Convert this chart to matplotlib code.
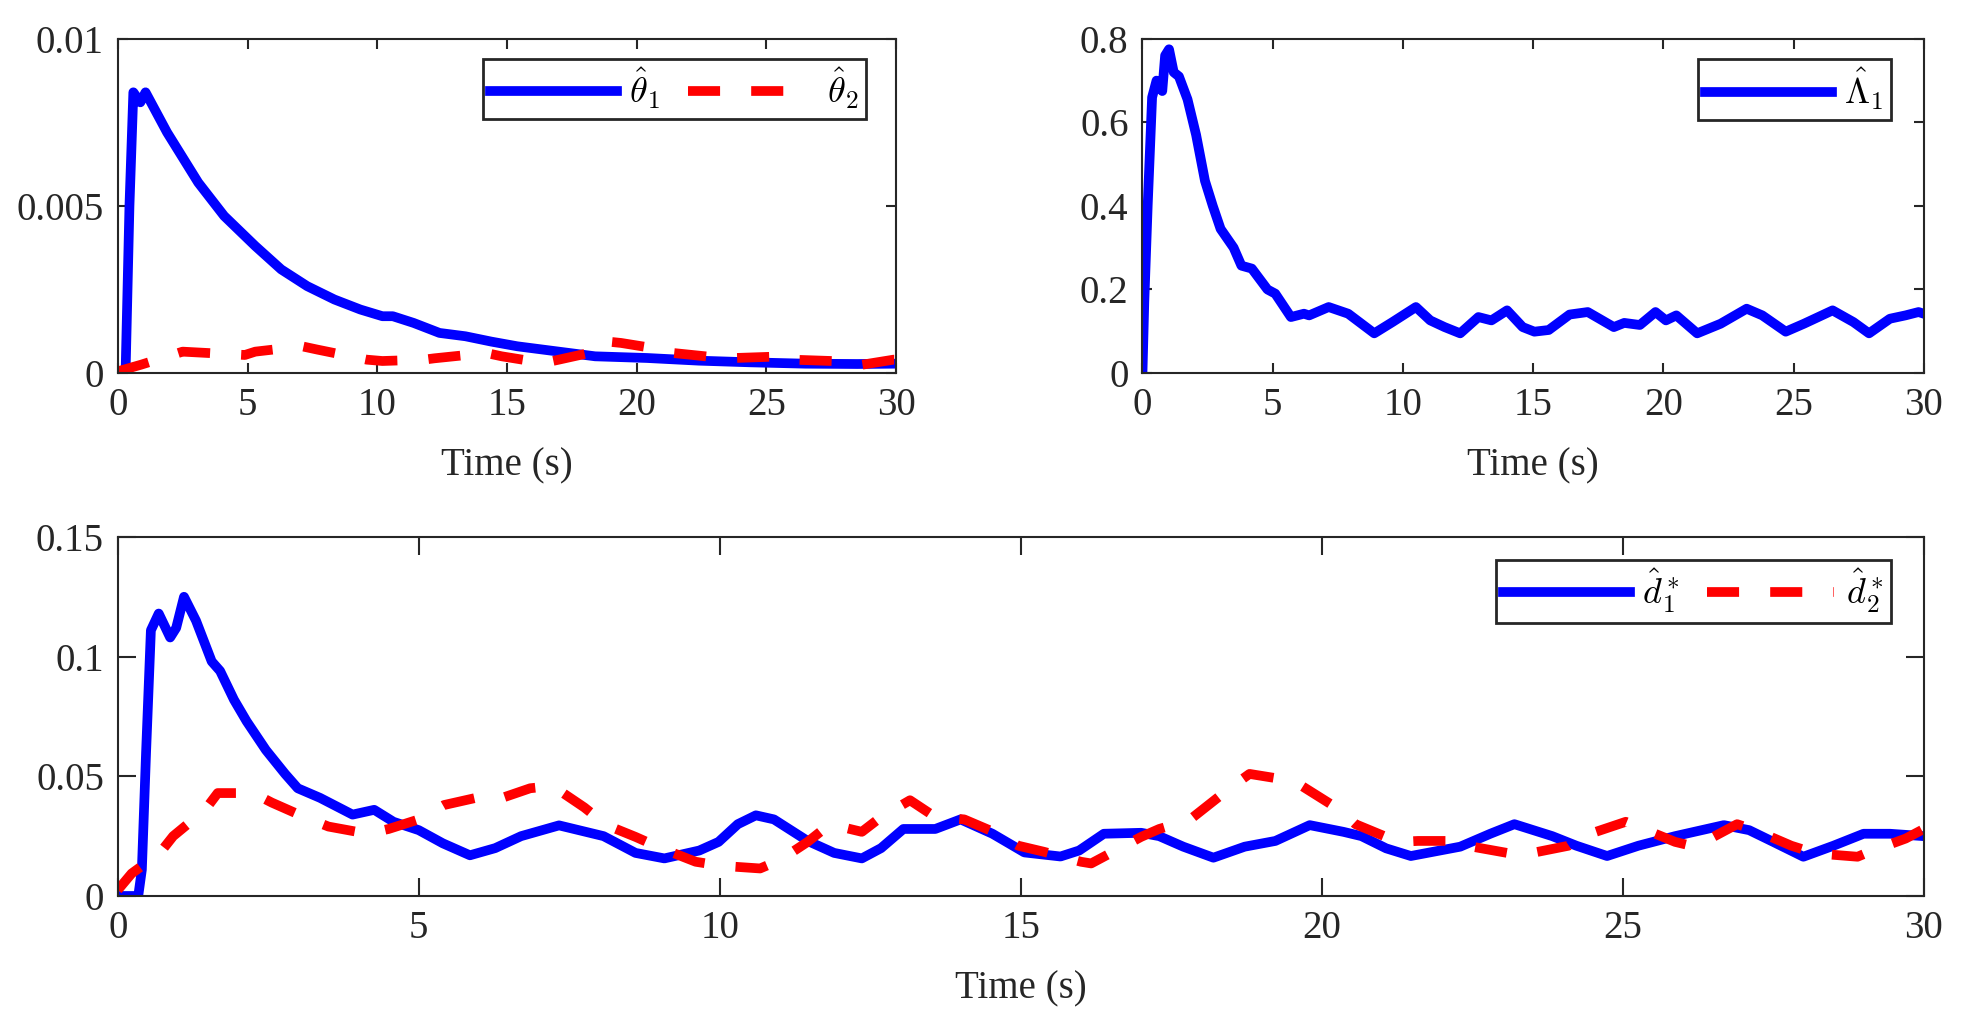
import numpy as np
import matplotlib.pyplot as plt

plt.rcParams['font.family'] = ['Liberation Serif', 'DejaVu Serif']
plt.rcParams['mathtext.fontset'] = 'cm'

# ---- data ----
t_th1 = [0, 0.3, 0.45, 0.6, 0.87, 1.07, 1.9, 2.3, 3.1, 4.1, 5.3, 6.3, 7.3, 8.35, 9.35,
         10.2, 10.6, 11.4, 12.4, 13.4, 14.4, 15.4, 16.4, 17.4, 18.4, 20.4, 22.4, 24.4,
         26.5, 28.5, 30]
th1 = [0, 0, 0.005, 0.0084, 0.0081, 0.0084, 0.0072, 0.0067, 0.0057, 0.0047, 0.0038,
       0.0031, 0.0026, 0.0022, 0.0019, 0.0017, 0.0017, 0.0015, 0.0012, 0.0011, 0.00094,
       0.0008, 0.0007, 0.0006, 0.0005, 0.00045, 0.00037, 0.00032, 0.00028, 0.00027, 0.00028]

t_th2 = [0, 0.9, 2.5, 4.9, 5.3, 7.1, 7.7, 9.6, 10.2, 11.8, 12.2, 14.2, 14.8, 16.4, 17.0,
         18.4, 18.9, 19.4, 21.0, 21.4, 23.4, 25.7, 26.0, 27.9, 28.7, 29.9, 30]
th2 = [0.00005, 0.00025, 0.00064, 0.00054, 0.00064, 0.0008, 0.0007, 0.0004, 0.00036,
       0.0004, 0.00044, 0.0006, 0.0005, 0.0003, 0.0004, 0.00064, 0.00094, 0.0009,
       0.0007, 0.0006, 0.00044, 0.0005, 0.0004, 0.00035, 0.00025, 0.0004, 0.0004]

t_lam = [0, 0.07, 0.2, 0.37, 0.54, 0.76, 0.87, 1.02, 1.2, 1.4, 1.73, 2.06, 2.4, 2.7, 3.0,
         3.5, 3.8, 4.2, 4.8, 5.1, 5.7, 6.2, 6.4, 7.15, 7.9, 8.9, 9.6, 10.5, 11.05, 11.6,
         12.2, 12.9, 13.4, 14.0, 14.6, 15.05, 15.6, 16.4, 17.1, 18.1, 18.5, 19.1, 19.7,
         20.1, 20.5, 21.3, 22.2, 23.2, 23.8, 24.7, 25.4, 26.5, 27.3, 27.9, 28.7, 29.3,
         29.8, 30]
lam = [0, 0.17, 0.4, 0.66, 0.70, 0.675, 0.76, 0.775, 0.72, 0.71, 0.655, 0.57, 0.46, 0.40,
       0.345, 0.30, 0.257, 0.25, 0.20, 0.19, 0.134, 0.142, 0.138, 0.158, 0.142, 0.095,
       0.122, 0.158, 0.126, 0.11, 0.095, 0.134, 0.126, 0.15, 0.11, 0.099, 0.103, 0.14,
       0.146, 0.11, 0.12, 0.115, 0.146, 0.126, 0.138, 0.095, 0.118, 0.154, 0.138, 0.099,
       0.118, 0.15, 0.122, 0.095, 0.13, 0.138, 0.146, 0.142]

t_d1 = [0, 0.34, 0.4, 0.47, 0.55, 0.68, 0.87, 0.97, 1.1, 1.3, 1.56, 1.7, 1.93, 2.14, 2.46,
        2.78, 2.99, 3.36, 3.9, 4.26, 4.58, 5.0, 5.4, 5.85, 6.27, 6.7, 7.33, 8.07, 8.6,
        9.08, 9.66, 9.98, 10.3, 10.6, 10.9, 11.46, 11.9, 12.36, 12.68, 13.05, 13.58,
        14.0, 14.53, 15.06, 15.66, 15.97, 16.38, 17.0, 17.3, 17.7, 18.2, 18.72, 19.23,
        19.8, 20.36, 20.66, 21.07, 21.48, 22.3, 22.8, 23.2, 23.83, 24.23, 24.74, 25.26,
        25.87, 26.68, 27.1, 27.5, 28.0, 28.5, 29.0, 29.44, 30]
d1 = [0, 0, 0.011, 0.06, 0.111, 0.118, 0.108, 0.112, 0.125, 0.115, 0.098, 0.094, 0.082,
      0.073, 0.061, 0.051, 0.045, 0.041, 0.034, 0.036, 0.031, 0.0275, 0.022, 0.017, 0.020,
      0.025, 0.0295, 0.025, 0.018, 0.0157, 0.019, 0.0226, 0.030, 0.0337, 0.032, 0.023,
      0.018, 0.0157, 0.020, 0.028, 0.028, 0.032, 0.026, 0.0182, 0.0165, 0.019, 0.026,
      0.0264, 0.025, 0.0206, 0.016, 0.0206, 0.023, 0.0296, 0.0268, 0.025, 0.0199, 0.0167,
      0.0206, 0.026, 0.030, 0.025, 0.021, 0.0167, 0.021, 0.025, 0.0296, 0.0275, 0.0226,
      0.0164, 0.021, 0.026, 0.026, 0.025]

t_d2 = [0, 0.23, 0.7, 0.92, 1.45, 1.66, 2.25, 2.56, 3.1, 3.5, 4.15, 4.5, 5.0, 5.42, 5.95,
        6.27, 6.85, 7.22, 7.75, 8.12, 8.6, 9.03, 9.6, 10.03, 10.67, 11.0, 11.46, 11.83,
        12.36, 12.68, 13.16, 13.58, 14.06, 14.48, 14.96, 15.38, 16.0, 16.17, 17.0, 17.3,
        17.8, 18.5, 18.8, 19.54, 20.3, 20.56, 21.27, 21.6, 22.3, 22.5, 23.3, 24.1, 24.34,
        25.05, 25.87, 26.2, 26.9, 27.2, 27.8, 28.2, 28.9, 29.1, 29.7, 30]
d2 = [0.0025, 0.0094, 0.018, 0.025, 0.036, 0.043, 0.043, 0.039, 0.033, 0.029, 0.026,
      0.028, 0.032, 0.038, 0.041, 0.040, 0.045, 0.046, 0.037, 0.0296, 0.0247, 0.0199,
      0.0143, 0.0126, 0.0115, 0.015, 0.0226, 0.030, 0.0268, 0.033, 0.040, 0.033, 0.032,
      0.0275, 0.021, 0.0185, 0.0143, 0.0136, 0.0247, 0.028, 0.0317, 0.0456, 0.051, 0.048,
      0.036, 0.030, 0.0226, 0.023, 0.023, 0.0206, 0.017, 0.021, 0.025, 0.031, 0.0226,
      0.0206, 0.030, 0.0275, 0.021, 0.0178, 0.0164, 0.0185, 0.024, 0.028]

x_ticks = [0, 5, 10, 15, 20, 25, 30]
# --------------------------------------

ink = '#262626'
lw = 7.0
dash = (0, (3.3, 3.2))

fig = plt.figure(figsize=(19.63, 10.22), dpi=100)
ax1 = fig.add_axes([0.060, 0.635, 0.3965, 0.327])
ax2 = fig.add_axes([0.582, 0.635, 0.398, 0.327])
ax3 = fig.add_axes([0.060, 0.1233, 0.920, 0.3513])


def style(ax, ticklen):
    ax.set_xlim(0, 30)
    ax.set_xticks(x_ticks)
    ax.tick_params(direction='in', top=True, right=True, length=ticklen, width=1.5,
                   colors=ink, labelsize=28, pad=10)
    for s in ax.spines.values():
        s.set_linewidth(1.5)
        s.set_color(ink)
    ax.set_xlabel('Time (s)', fontsize=28, color=ink, labelpad=17)


def leg(ax, x, y, ncol):
    lg = ax.legend(loc='upper right', bbox_to_anchor=(x, y), ncol=ncol, fontsize=26,
                   handlelength=3.5, handletextpad=0.35, columnspacing=0.75,
                   borderpad=0.2, borderaxespad=0, fancybox=False, framealpha=1)
    lg.get_frame().set_edgecolor(ink)
    lg.get_frame().set_linewidth(2)


ax1.plot(t_th1, th1, color='blue', lw=lw, label=r'$\hat{\theta}_1$')
ax1.plot(t_th2, th2, color='red', lw=lw, ls=dash, label=r'$\hat{\theta}_2$')
ax1.set_ylim(0, 0.01)
ax1.set_yticks([0, 0.005, 0.01])
ax1.set_yticklabels(['0', '0.005', '0.01'])
style(ax1, 7)
leg(ax1, 0.961, 0.940, 2)

ax2.plot(t_lam, lam, color='blue', lw=lw, label=r'$\hat{\Lambda}_1$')
ax2.set_ylim(0, 0.8)
ax2.set_yticks([0, 0.2, 0.4, 0.6, 0.8])
ax2.set_yticklabels(['0', '0.2', '0.4', '0.6', '0.8'])
style(ax2, 7)
leg(ax2, 0.958, 0.940, 1)

ax3.plot(t_d1, d1, color='blue', lw=lw, label=r'$\hat{d}^*_1$')
ax3.plot(t_d2, d2, color='red', lw=lw, ls=dash, label=r'$\hat{d}^*_2$')
ax3.set_ylim(0, 0.15)
ax3.set_yticks([0, 0.05, 0.1, 0.15])
ax3.set_yticklabels(['0', '0.05', '0.1', '0.15'])
style(ax3, 13)
leg(ax3, 0.982, 0.936, 2)

fig.savefig('out.png', dpi=100)
